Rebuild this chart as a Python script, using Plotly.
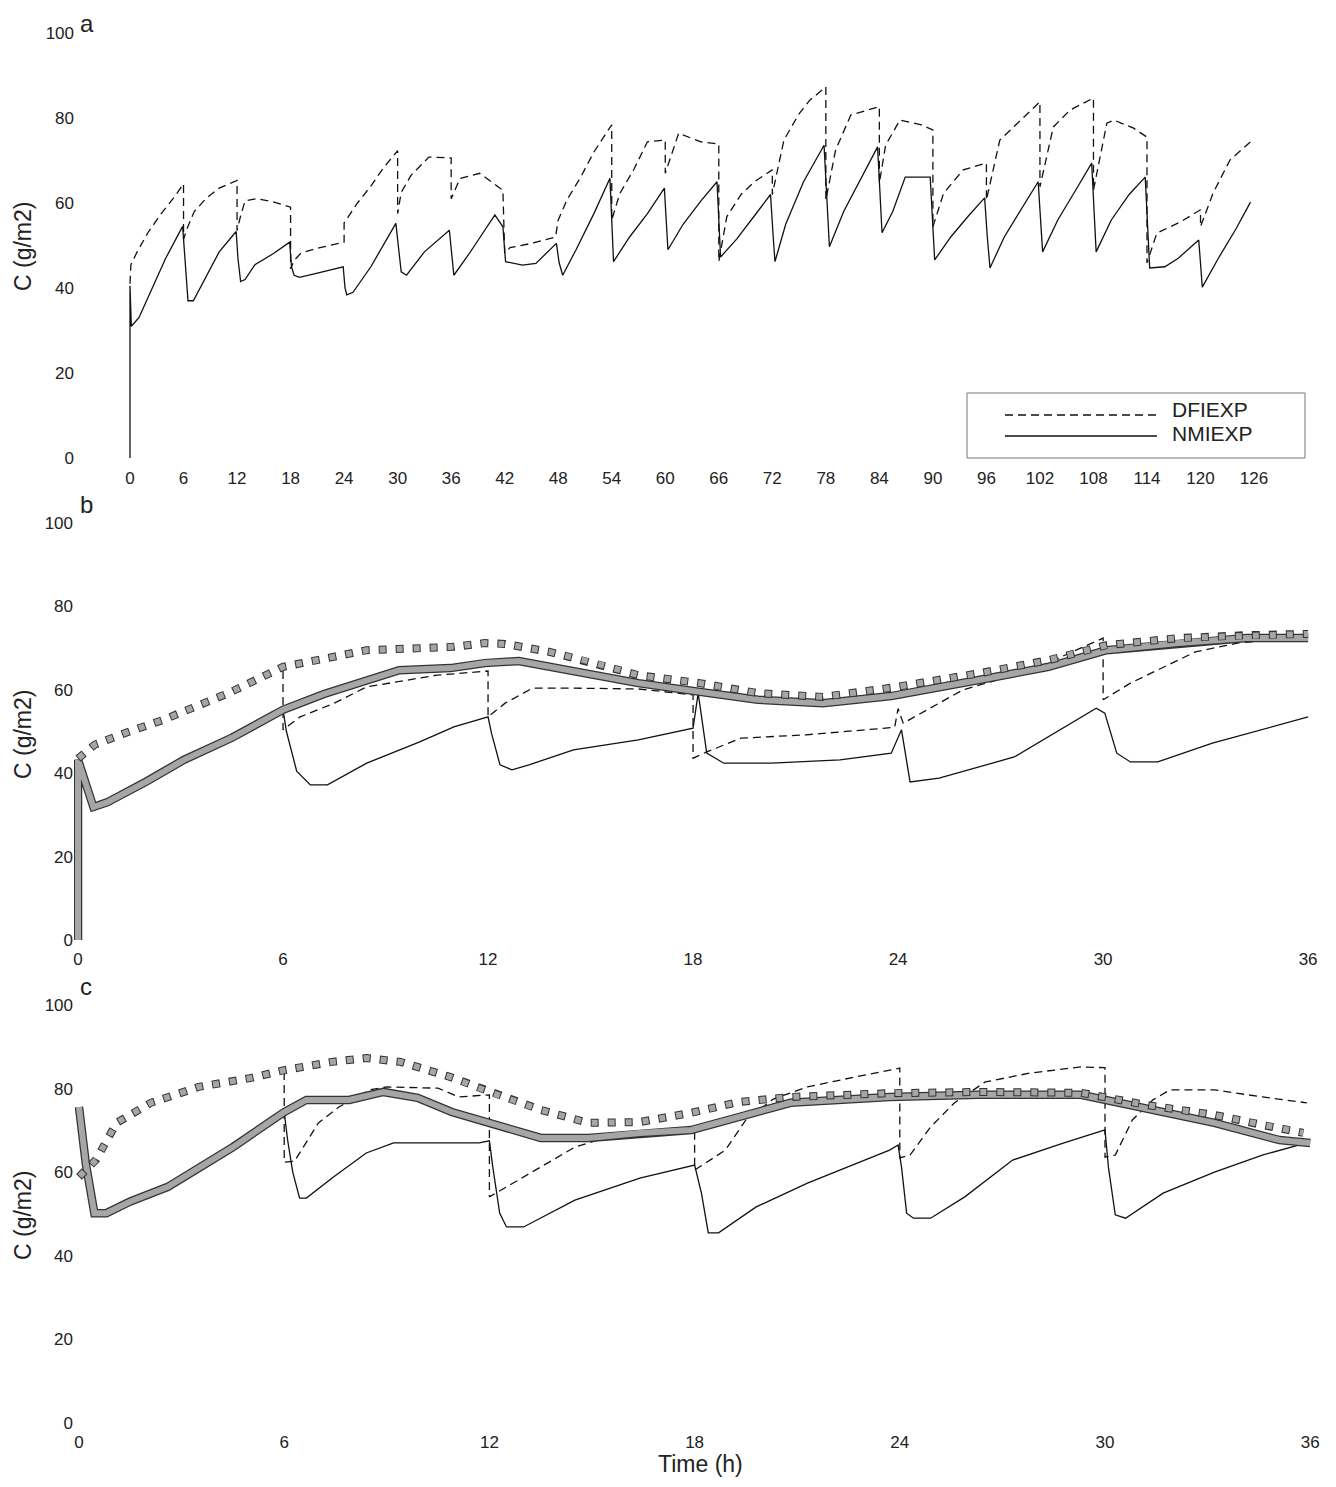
import plotly.graph_objects as go

# page body has an 8px margin, so the figure is laid out in page pixels shifted by OFF
OFF = 8
FW, FH = 1336 - 2 * OFF, 1487 - 2 * OFF

# ---------------- Panel a (0-126 h) ----------------
A_T_DFI = [0, 0.1, 0.8, 2, 3.5, 5, 6, 6, 6.4, 7.2, 8.5, 10, 12, 12, 12.4, 12.9, 14.2, 16, 18, 18, 18.4, 19.2, 21.3,
           24, 24, 25.5, 27, 28.5, 30, 30, 30.4, 31.5, 33.5, 36, 36, 37, 39.2, 41.8, 42, 42.6, 45, 47.7, 48, 49, 50.5,
           52, 54, 54, 54.9, 56.5, 58, 60, 60, 61.5, 64, 66, 66, 66.9, 68.5, 70, 72, 72, 73.3, 75, 76.2, 78, 78, 79.1,
           80.8, 84, 84, 84.7, 86.3, 88.7, 90, 90, 91.2, 93.4, 96, 96, 97.5, 99.8, 102, 102, 103.5, 105.4, 108, 108,
           109.5, 110.3, 112.5, 114, 114, 115.1, 117.7, 120, 120, 121.4, 123.3, 125.6]
A_C_DFI = [41, 45.5, 48.5, 53, 57.5, 61.5, 64.5, 51.5, 54, 58, 61, 63.5, 65.3, 53.5, 57, 60.5, 61, 60.3, 59, 44.5, 46.5,
           48.3, 49.5, 50.8, 55.3, 60, 64, 68.5, 72.3, 57.5, 62.5, 66.5, 70.8, 70.6, 61, 65.8, 67, 63, 48.2, 49.5, 50.5,
           52, 56, 60.8, 66, 72, 78.4, 56, 62.2, 68, 74.4, 74.8, 67, 76.4, 74.4, 73.9, 46.2, 56.8, 62, 65, 67.8, 62,
           74.8, 81, 84.2, 87.3, 60.7, 72.5, 80.7, 82.7, 64.7, 73.6, 79.5, 78.4, 77.2, 54.4, 62.3, 67.8, 69.4, 60.7,
           74.8, 79.5, 83.8, 63.8, 77.9, 81.9, 84.7, 63, 78.8, 79.5, 77.6, 75.5, 45.9, 52.9, 55.5, 58.4, 54.4, 62.3,
           70.1, 74.4]

A_T_NMI = [0, 0, 0.15, 1, 2.5, 4, 5.9, 6.2, 6.5, 7.1, 8.5, 10, 11.9, 12.1, 12.4, 12.9, 14, 16, 17.9, 18.1, 18.4, 19,
           21, 23.9, 24.1, 24.3, 25, 27, 29.8, 30.1, 30.4, 31, 33, 35.8, 36.1, 36.3, 38, 40.9, 41.8, 42.1, 44, 45.5,
           47.8, 48.1, 48.5, 50, 52, 53.8, 54.2, 56, 58, 59.9, 60.3, 62, 64, 65.8, 66.2, 68, 70, 71.8, 72.1, 72.3,
           73.5, 75.5, 77.8, 78.1, 78.4, 80, 82, 83.8, 84.3, 85.5, 86.9, 89.7, 90.2, 92, 94, 95.8, 96.1, 96.4, 98,
           100, 101.8, 102.3, 104, 106, 107.8, 108.3, 110, 112, 113.8, 114.3, 116, 117.5, 119.8, 120.2, 122, 124,
           125.6]
A_C_NMI = [0, 40.5, 31, 33, 40, 47, 54.5, 45, 37, 37, 42.5, 48.5, 53.3, 47, 41.5, 42, 45.5, 48, 50.8, 45, 43, 42.5,
           43.5, 45, 40, 38.4, 39, 45, 55.2, 50, 43.8, 43, 48.5, 53.6, 47, 43, 48, 57.2, 54.4, 46.2, 45.4, 45.8, 50.5,
           46, 43, 49, 57.5, 65.8, 46.2, 52, 57.5, 63.5, 49, 55, 60.5, 65, 47.3, 51.5, 57, 62, 52, 46.2, 55, 65, 73.6,
           60, 49.7, 58, 66, 73.2, 53, 58, 66.1, 66.1, 46.6, 52, 57, 61.2, 52, 44.7, 52, 59, 65, 48.5, 56, 63, 69.4,
           48.5, 56, 62, 66.1, 44.7, 45, 47, 51.3, 40.2, 47, 54, 60.2]

# ---------------- Panel b (0-36 h) ----------------
B_T_BAND = [0, 0, 0.45, 0.85, 2, 3.1, 4.5, 6, 7.2, 8.45, 9.4, 10.9, 11.9, 12.9, 13.8, 15.1, 16.4, 18.2, 19.9, 21.8,
            23.8, 26.4, 28.4, 30.1, 32.2, 34.2, 36]
B_C_BAND = [0, 43.2, 31.9, 33, 38, 43.2, 48.5, 55.2, 59, 62.4, 64.7, 65.2, 66.4, 66.9, 65.5, 63.5, 61.6, 59.5, 57.6,
            56.8, 58.5, 62.4, 65.5, 69.5, 71.2, 72.4, 72.4]
B_T_DOT = [0, 0.5, 1.5, 2.5, 4.4, 6, 8.45, 11, 11.9, 12.5, 13.8, 15, 16.4, 18.2, 19.9, 21.8, 23.8, 26.4, 28.4, 30.1,
           32.2, 34.2, 36]
B_C_DOT = [43.5, 46.9, 50, 52.8, 59.2, 65.5, 69.5, 70.3, 71.2, 71, 69.1, 66.7, 63.5, 61.6, 59.2, 58.3, 60.5, 64, 67.1,
           70.7, 72.4, 73.1, 73.4]
B_T_DFI = [6, 6, 6.5, 7.5, 8.45, 9.4, 10.5, 12, 12, 12.5, 13.3, 14.5, 16.4, 18, 18, 18.4, 19.4, 21.3, 23.9, 24, 24.15,
           25.9, 27.9, 30, 30, 30.8, 31.8, 32.7, 34, 36]
B_C_DFI = [64.5, 50.4, 53.5, 56.8, 60.7, 62, 63.5, 64.5, 53.5, 56.8, 60.4, 60.4, 60.2, 58.8, 43.6, 45.1, 48.4, 49.2, 51,
           55.5, 52, 60, 64.7, 72.4, 57.6, 61.6, 65.5, 69.1, 71.3, 72.5]
B_T_NMI = [6, 6.1, 6.4, 6.8, 7.3, 8.45, 10, 11, 12, 12.1, 12.35, 12.7, 13.2, 14.5, 16.4, 18, 18.15, 18.4, 18.9, 20.3,
           22.3, 23.8, 24.1, 24.35, 25.2, 27.4, 29.8, 30.05, 30.4, 30.8, 31.6, 33.2, 36]
B_C_NMI = [55.2, 50, 40.5, 37.2, 37.2, 42.4, 47.5, 51.1, 53.5, 49.6, 42, 40.8, 42, 45.6, 48, 50.8, 59.2, 44.8, 42.4,
           42.4, 43.2, 44.8, 50.4, 37.9, 38.8, 43.9, 55.6, 54.4, 44.8, 42.7, 42.7, 47.2, 53.5]

# ---------------- Panel c (0-36 h) ----------------
C_T_BAND = [0, 0.2, 0.45, 0.8, 1.5, 2.6, 4.5, 6, 6.65, 7.9, 8.9, 9.9, 10.9, 12, 13.5, 14.9, 16.4, 17.9, 19.3, 20.8,
            23.7, 26.3, 29.3, 30, 31.2, 33.2, 35.1, 36]
C_C_BAND = [75.6, 62, 50.2, 50.2, 53, 56.5, 66, 74.4, 77.3, 77.3, 79.2, 77.8, 74.4, 71.8, 68.2, 68.2, 69.4, 70.1, 73.2,
            76.6, 78, 78.5, 78.5, 77.3, 74.9, 71.8, 67.7, 67]
C_T_DOT = [0, 0.5, 1.1, 2.1, 3.5, 5, 6, 7.4, 8.4, 9.4, 10.85, 12, 13.5, 14.9, 16.4, 17.9, 19.3, 20.8, 23.7, 26.3, 29.3,
           31.2, 33.2, 34.6, 35.8]
C_C_DOT = [58.9, 63, 71.8, 76.6, 80.4, 82.5, 84.4, 86.4, 87.3, 86.4, 82.8, 79.2, 74.9, 71.8, 72, 74.2, 76.8, 78, 78.9,
           79.2, 79, 76.1, 73.7, 71.3, 69.4]
C_T_DFI = [6, 6, 6.3, 7, 7.6, 8.5, 9, 10.5, 11.1, 12, 12, 12.5, 13.5, 14.5, 15.5, 17, 18, 18, 18.9, 19.5, 20.3, 21.3,
           22.7, 24, 24, 24.3, 24.9, 25.6, 26.5, 27.8, 29.3, 30, 30, 30.3, 30.8, 31.4, 31.9, 33.2, 34.6, 35.9]
C_C_DFI = [84, 62.4, 62.6, 71.8, 75.6, 79.7, 80.4, 80.1, 78, 78.5, 54.1, 56.5, 61.2, 66, 68.5, 69.5, 69.4, 60.5, 65.3,
           72.5, 77.5, 80.4, 82.8, 84.9, 63.4, 64.1, 70.8, 76.6, 81.6, 83.7, 85.2, 85, 63.6, 64.1, 72.5, 77.3, 79.7,
           79.7, 78, 76.6]
C_T_NMI = [6, 6.1, 6.25, 6.45, 6.65, 7.4, 8.4, 9.2, 11.7, 12, 12.1, 12.3, 12.5, 13, 14.5, 16.4, 18, 18.2, 18.4, 18.7,
           19.8, 21.3, 23.7, 23.95, 24.05, 24.2, 24.4, 24.9, 25.9, 27.3, 28.8, 30, 30.1, 30.3, 30.6, 31.7, 33.2, 34.6,
           35.9]
C_C_NMI = [74.4, 67.7, 60, 53.8, 53.8, 58.6, 64.6, 67, 67, 67.5, 61.2, 50.2, 46.9, 46.9, 53.3, 58.6, 61.7, 55, 45.5,
           45.5, 51.7, 57.4, 65.3, 66.5, 61.2, 50.2, 49, 49, 54.1, 62.9, 67, 70.1, 61.2, 49.8, 49, 55, 60, 64.1, 67]

A_XTICKS = list(range(0, 127, 6))
BC_XTICKS = [0, 6, 12, 18, 24, 30, 36]
Y_TICKS = [0, 20, 40, 60, 80, 100]
SERIES_NAMES = ["DFIEXP", "NMIEXP"]

FONT = "Liberation Sans, Arial, Helvetica, sans-serif"
DASH = "8px,5px"

fig = go.Figure()


def black(t, c, xa, ya, dashed):
    fig.add_trace(go.Scatter(x=t, y=c, mode="lines", xaxis=xa, yaxis=ya, showlegend=False, hoverinfo="skip",
                             line=dict(color="#111", width=1.3, dash=DASH if dashed else "solid")))


def band(t, c, xa, ya):
    fig.add_trace(go.Scatter(x=t, y=c, mode="lines", xaxis=xa, yaxis=ya, showlegend=False, hoverinfo="skip",
                             line=dict(color="#333", width=8.5)))
    fig.add_trace(go.Scatter(x=t, y=c, mode="lines", xaxis=xa, yaxis=ya, showlegend=False, hoverinfo="skip",
                             line=dict(color="#a6a6a6", width=6)))


def dotted(t, c, xa, ya):
    fig.add_trace(go.Scatter(x=t, y=c, mode="lines", xaxis=xa, yaxis=ya, showlegend=False, hoverinfo="skip",
                             line=dict(color="#333", width=8, dash="8px,9px")))
    fig.add_trace(go.Scatter(x=t, y=c, mode="lines", xaxis=xa, yaxis=ya, showlegend=False, hoverinfo="skip",
                             line=dict(color="#a6a6a6", width=6, dash="0px,1px,6px,10px")))


# panel a
black(A_T_DFI, A_C_DFI, "x", "y", True)
black(A_T_NMI, A_C_NMI, "x", "y", False)
# panel b
black(B_T_DFI, B_C_DFI, "x2", "y2", True)
black(B_T_NMI, B_C_NMI, "x2", "y2", False)
band(B_T_BAND, B_C_BAND, "x2", "y2")
dotted(B_T_DOT, B_C_DOT, "x2", "y2")
# panel c
black(C_T_DFI, C_C_DFI, "x3", "y3", True)
black(C_T_NMI, C_C_NMI, "x3", "y3", False)
band(C_T_BAND, C_C_BAND, "x3", "y3")
dotted(C_T_DOT, C_C_DOT, "x3", "y3")


def px_x(p):
    return (p - OFF) / FW


def px_y(p):
    return 1 - (p - OFF) / FH


tickfont = dict(family=FONT, size=17, color="#222")
ax_common = dict(showgrid=False, zeroline=False, showline=False, ticks="", tickfont=tickfont, fixedrange=True,
                 automargin=False)

fig.update_layout(
    width=FW, height=FH, margin=dict(l=0, r=0, t=0, b=0, pad=0, autoexpand=False),
    paper_bgcolor="white", plot_bgcolor="white", showlegend=False,
    font=dict(family=FONT, color="#222"),
    xaxis=dict(domain=[px_x(75), px_x(1305)], range=[-55 / 8.921, (1305 - 130) / 8.921], tickvals=A_XTICKS,
               anchor="y", **ax_common),
    yaxis=dict(domain=[px_y(466), px_y(25)], range=[(458 - 466) / 4.25, (458 - 25) / 4.25], tickvals=Y_TICKS,
               anchor="x", **ax_common),
    xaxis2=dict(domain=[px_x(74), px_x(1312)], range=[(74 - 78) / 34.17, (1312 - 78) / 34.17], tickvals=BC_XTICKS,
                anchor="y2", **ax_common),
    yaxis2=dict(domain=[px_y(947), px_y(515)], range=[(940 - 947) / 4.17, (940 - 515) / 4.17], tickvals=Y_TICKS,
                anchor="x2", **ax_common),
    xaxis3=dict(domain=[px_x(74), px_x(1312)], range=[(74 - 79) / 34.2, (1312 - 79) / 34.2], tickvals=BC_XTICKS,
                anchor="y3", **ax_common),
    yaxis3=dict(domain=[px_y(1430), px_y(1000)], range=[(1423 - 1430) / 4.18, (1423 - 1000) / 4.18],
                tickvals=Y_TICKS, anchor="x3", **ax_common),
)

ann = [dict(text="a", x=px_x(78), y=1, xref="paper", yref="paper", xanchor="left", yanchor="top",
            showarrow=False, font=dict(family=FONT, size=24, color="#222"))]
for letter, base in [("b", 520), ("c", 1002)]:
    ann.append(dict(text=letter, x=px_x(78), y=px_y(base), xref="paper", yref="paper", xanchor="left",
                    yanchor="bottom", showarrow=False, font=dict(family=FONT, size=24, color="#222")))
for yc in [247, 735, 1216]:
    ann.append(dict(text="C (g/m2)", x=px_x(23), y=px_y(yc), xref="paper", yref="paper", xanchor="center",
                    yanchor="middle", textangle=-90, showarrow=False, font=dict(family=FONT, size=23, color="#222")))
ann.append(dict(text="Time (h)", x=px_x(700), y=px_y(1464), xref="paper", yref="paper", xanchor="center",
                yanchor="middle", showarrow=False, font=dict(family=FONT, size=23, color="#222")))
# legend entries (panel a)
for name, yc in zip(SERIES_NAMES, [409, 434]):
    ann.append(dict(text=name, x=px_x(1170), y=px_y(yc), xref="paper", yref="paper", xanchor="left",
                    yanchor="middle", showarrow=False, font=dict(family=FONT, size=21, color="#222")))
fig.update_layout(annotations=ann)

shapes = [
    dict(type="rect", xref="paper", yref="paper", x0=px_x(967), x1=px_x(1305), y0=px_y(458), y1=px_y(393),
         line=dict(color="#777", width=1), fillcolor="rgba(0,0,0,0)"),
    dict(type="line", xref="paper", yref="paper", x0=px_x(1005), x1=px_x(1157), y0=px_y(415), y1=px_y(415),
         line=dict(color="#111", width=1.3, dash=DASH)),
    dict(type="line", xref="paper", yref="paper", x0=px_x(1005), x1=px_x(1157), y0=px_y(436), y1=px_y(436),
         line=dict(color="#111", width=1.3)),
]
fig.update_layout(shapes=shapes)

fig.write_html("out.html")
